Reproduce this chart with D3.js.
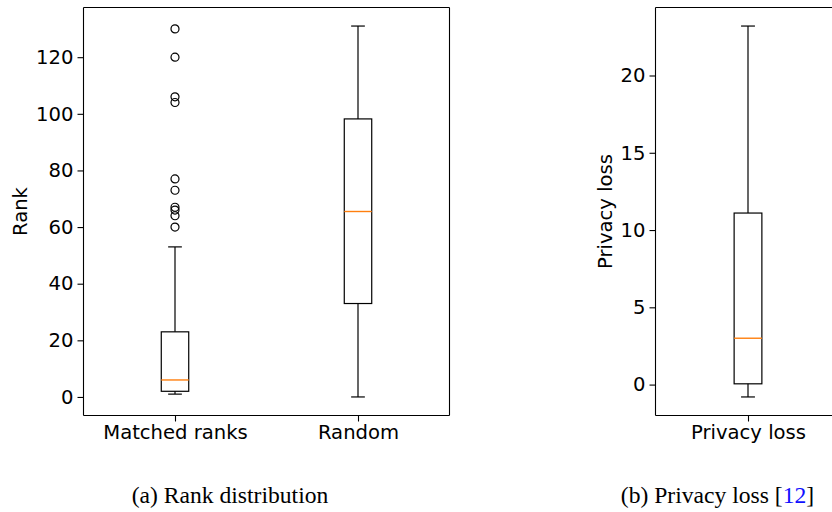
<!DOCTYPE html>
<html>
<head>
<meta charset="utf-8">
<script src="https://cdn.jsdelivr.net/npm/d3@7"></script>
<style>
  body { margin: 0; background: #fff; }
  svg { display: block; }
</style>
</head>
<body>
<svg id="chart" width="832" height="512"></svg>
<script>

// (a) rank distribution
var rankCategories = ['Matched ranks', 'Random'];
var rankLow = [1, 0];
var rankQ1 = [2, 33];
var rankMedian = [6, 65.5];
var rankQ3 = [23, 98.2];
var rankHigh = [53, 131];
var rankOutliers = [[130, 120, 106, 104, 77, 73, 67, 66, 64, 60], []];
var rankTicks = [0, 20, 40, 60, 80, 100, 120];

// (b) privacy loss
var lossCategories = ['Privacy loss'];
var lossLow = [-0.8];
var lossQ1 = [0.05];
var lossMedian = [3.0];
var lossQ3 = [11.1];
var lossHigh = [23.2];
var lossOutliers = [[]];
var lossTicks = [0, 5, 10, 15, 20];

var svg = d3.select('#chart');

var tickFont = 'DejaVu Sans',
    tickSize = 19.6,
    boxColor = '#000',
    medianColor = '#ff7f0e';

function boxPanel(opts) {
  var left = opts.left, top = opts.top, width = opts.width, height = opts.height;
  var g = svg.append('g').attr('transform', 'translate(' + left + ',' + top + ')');

  var rows = opts.categories.map(function(c, i) {
    return {
      name: c,
      low: opts.low[i], q1: opts.q1[i], med: opts.median[i],
      q3: opts.q3[i], high: opts.high[i], out: opts.outliers[i]
    };
  });

  var lo = d3.min(rows, function(d) { return d3.min([d.low].concat(d.out)); });
  var hi = d3.max(rows, function(d) { return d3.max([d.high].concat(d.out)); });
  var pad = (hi - lo) * 0.05;

  var y = d3.scaleLinear().domain([lo - pad, hi + pad]).range([height, 0]);
  var x = d3.scalePoint().domain(opts.categories).range([0, width]).padding(0.5);
  var bw = x.step() * 0.15;

  // axes
  var yAxis = g.append('g')
      .call(d3.axisLeft(y).tickValues(opts.ticks).tickSize(6).tickPadding(4));
  var xAxis = g.append('g')
      .attr('transform', 'translate(0,' + height + ')')
      .call(d3.axisBottom(x).tickSize(6).tickPadding(4));

  [yAxis, xAxis].forEach(function(a) {
    a.select('.domain').remove();
    a.attr('font-family', tickFont).attr('font-size', tickSize);
    a.selectAll('text').attr('fill', '#000');
    a.selectAll('line').attr('stroke', '#000').attr('stroke-width', 1.1);
  });

  // boxes
  var box = g.selectAll('.box').data(rows).enter().append('g')
      .attr('class', 'box')
      .attr('stroke-width', 1.2)
      .attr('transform', function(d) { return 'translate(' + x(d.name) + ',0)'; });

  box.append('line')
      .attr('x1', 0).attr('x2', 0)
      .attr('y1', function(d) { return y(d.high); })
      .attr('y2', function(d) { return y(d.q3); })
      .attr('stroke', boxColor);
  box.append('line')
      .attr('x1', 0).attr('x2', 0)
      .attr('y1', function(d) { return y(d.q1); })
      .attr('y2', function(d) { return y(d.low); })
      .attr('stroke', boxColor);
  box.append('line')
      .attr('x1', -bw / 4).attr('x2', bw / 4)
      .attr('y1', function(d) { return y(d.high); })
      .attr('y2', function(d) { return y(d.high); })
      .attr('stroke', boxColor);
  box.append('line')
      .attr('x1', -bw / 4).attr('x2', bw / 4)
      .attr('y1', function(d) { return y(d.low); })
      .attr('y2', function(d) { return y(d.low); })
      .attr('stroke', boxColor);
  box.append('rect')
      .attr('x', -bw / 2)
      .attr('width', bw)
      .attr('y', function(d) { return y(d.q3); })
      .attr('height', function(d) { return y(d.q1) - y(d.q3); })
      .attr('fill', 'none')
      .attr('stroke', boxColor);
  box.append('line')
      .attr('x1', -bw / 2).attr('x2', bw / 2)
      .attr('y1', function(d) { return y(d.med); })
      .attr('y2', function(d) { return y(d.med); })
      .attr('stroke', medianColor)
      .attr('stroke-width', 1.4);
  box.selectAll('circle').data(function(d) { return d.out; }).enter().append('circle')
      .attr('cx', 0)
      .attr('cy', function(v) { return y(v); })
      .attr('r', 4)
      .attr('fill', 'none')
      .attr('stroke', boxColor);

  // frame
  var frame = g.append('g').attr('stroke', '#000').attr('stroke-width', 1.1).attr('fill', 'none');
  frame.append('line').attr('x1', 0).attr('x2', 0).attr('y1', 0).attr('y2', height);
  frame.append('line').attr('x1', 0).attr('x2', width).attr('y1', 0).attr('y2', 0);
  frame.append('line').attr('x1', 0).attr('x2', width).attr('y1', height).attr('y2', height);
  frame.append('line').attr('x1', width).attr('x2', width).attr('y1', 0).attr('y2', height);

  // y label
  g.append('text')
      .attr('transform', 'translate(' + opts.labelX + ',' + (height / 2) + ') rotate(-90)')
      .attr('text-anchor', 'middle')
      .attr('font-family', tickFont)
      .attr('font-size', tickSize)
      .attr('fill', '#000')
      .text(opts.label);

  // caption
  var cap = svg.append('text')
      .attr('x', opts.captionX)
      .attr('y', 503)
      .attr('text-anchor', 'middle')
      .attr('font-family', 'Liberation Serif')
      .attr('font-size', 23.6)
      .attr('fill', '#000');
  opts.caption.forEach(function(part) {
    cap.append('tspan').attr('fill', part[1]).text(part[0]);
  });
}

boxPanel({
  left: 83.5, top: 7.5, width: 366, height: 408,
  categories: rankCategories, low: rankLow, q1: rankQ1, median: rankMedian,
  q3: rankQ3, high: rankHigh, outliers: rankOutliers, ticks: rankTicks,
  label: 'Rank', labelX: -57,
  caption: [['(a) Rank distribution', '#000']], captionX: 230
});

boxPanel({
  left: 655.5, top: 7.5, width: 185, height: 408,
  categories: lossCategories, low: lossLow, q1: lossQ1, median: lossMedian,
  q3: lossQ3, high: lossHigh, outliers: lossOutliers, ticks: lossTicks,
  label: 'Privacy loss', labelX: -43.5,
  caption: [['(b) Privacy loss [', '#000'], ['12', '#1010ff'], [']', '#000']], captionX: 717.5
});

</script>
</body>
</html>
